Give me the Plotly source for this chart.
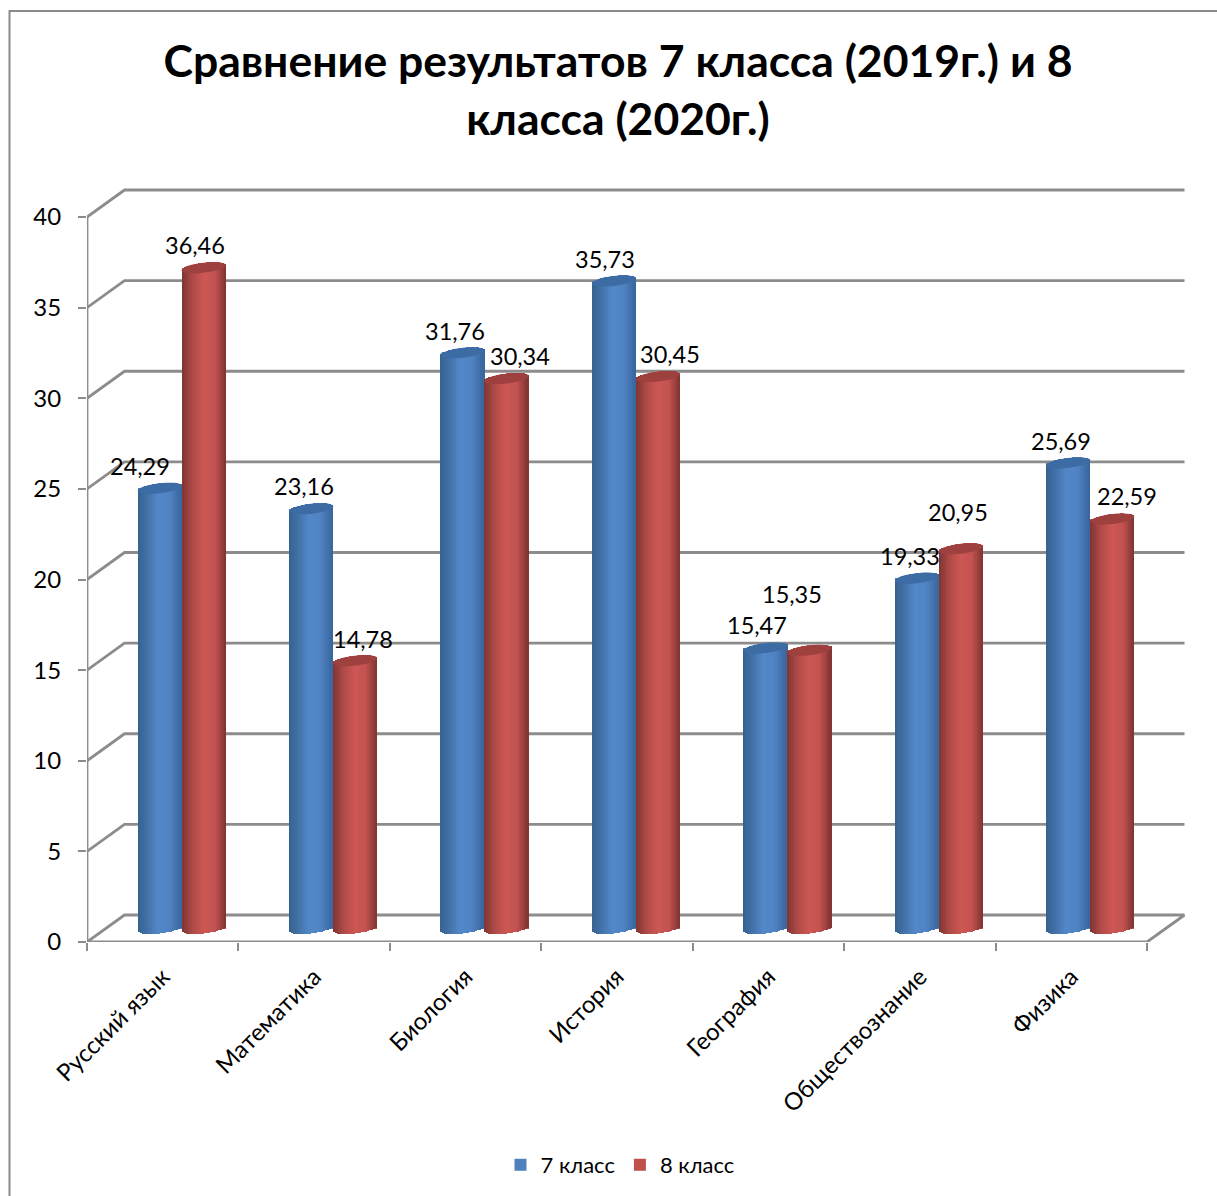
import math
import plotly.graph_objects as go

categories = ["Русский язык", "Математика", "Биология", "История", "География", "Обществознание", "Физика"]
series_7 = [24.29, 23.16, 31.76, 35.73, 15.47, 19.33, 25.69]
series_8 = [36.46, 14.78, 30.34, 30.45, 15.35, 20.95, 22.59]
y_ticks = [0, 5, 10, 15, 20, 25, 30, 35, 40]

# manual data-label placement, in pixels from the cylinder top centre
label_dx_7 = [-20, -7, -8, -9, -8, -7, -7]
label_dy_7 = [22, 23, 22, 22, 23, 22, 22]
label_dx_8 = [-9, 8, 13, 12, -17, -3, 15]
label_dy_8 = [23, 22, 23, 23, 56, 37, 23]

FONT = "Lato, 'Open Sans', sans-serif"
W, H = 1217, 1196
L, R, T, B = 87, 1192, 178, 942     # plot box in px
PX_X = 1060 / 7                              # px per category
PX_Y = 725 / 40                              # px per value unit
xmax = (R - L) / PX_X
ymax = (B - T) / PX_Y
dx = 37.5 / PX_X                             # wall depth
dy = 27 / PX_Y
bar_w = 44 / PX_X
mid_dx = 19 / PX_X                           # bars stand mid-depth
y0 = 13.5 / PX_Y
ry = 5 / PX_Y
tilt = 2.5 / PX_Y
N = 22
GRID = "#8c8c8c"

BLUE = [(-1, "#35628f"), (-0.55, "#4372a9"), (-0.1, "#5287c9"), (0.45, "#5083c2"), (1, "#37659c")]
RED = [(-1, "#7d3533"), (-0.55, "#ad4946"), (0.0, "#cd5755"), (0.5, "#c25250"), (1, "#7d3331")]


def rgb(h):
    return tuple(int(h[i:i + 2], 16) for i in (1, 3, 5))


def shade(stops, t):
    for (a, ca), (b, cb) in zip(stops, stops[1:]):
        if t <= b:
            f = (t - a) / (b - a)
            c = [round(p + (q - p) * f) for p, q in zip(rgb(ca), rgb(cb))]
            return "rgb(%d,%d,%d)" % tuple(c)
    return stops[-1][1]


fig = go.Figure()
shapes = []

# back wall and floor gridlines
for k in y_ticks:
    shapes.append(dict(type="path", layer="below", xref="x", yref="y",
                       path=f"M 0,{k} L {dx},{k + dy} L {7 + dx},{k + dy}",
                       line=dict(color=GRID, width=2.8)))

series = [("7 класс", series_7, "#4f81bd", BLUE, "#3d6ba3", -0.5, label_dx_7, label_dy_7),
          ("8 класс", series_8, "#c0504d", RED, "#9e403e", 0.5, label_dx_8, label_dy_8)]
annotations = []
for name, vals, col, stops, cap, side, ldx, ldy in series:
    cx = [i + 0.5 + mid_dx + side * bar_w for i in range(len(vals))]
    fig.add_trace(go.Bar(x=cx, y=vals, base=[y0] * len(vals), width=bar_w, name=name,
                         marker=dict(color=col, line=dict(width=0))))
    xs, ys, bs, ws, cs = [], [], [], [], []
    sw = bar_w / N
    for c, v in zip(cx, vals):
        for j in range(N):
            t = (j + 0.5) / N * 2 - 1
            drop = ry * (1 - t * t) ** 0.5
            xs.append(c + t * bar_w / 2)
            bs.append(y0 + tilt * t - drop)
            ys.append(v + 2 * drop)
            ws.append(sw * 1.12)
            cs.append(shade(stops, t))
    fig.add_trace(go.Bar(x=xs, y=ys, base=bs, width=ws, showlegend=False, hoverinfo="skip",
                         marker=dict(color=cs, line=dict(width=0))))
    for c, v, a, b in zip(cx, vals, ldx, ldy):
        pts = []
        for d in range(0, 360, 12):
            ca, sa = math.cos(math.radians(d)), math.sin(math.radians(d))
            pts.append(f"{c + ca * bar_w / 2},{y0 + v + tilt * ca + ry * sa}")
        shapes.append(dict(type="path", layer="above", xref="x", yref="y",
                           path="M " + " L ".join(pts) + " Z",
                           fillcolor=cap, line=dict(width=0)))
        annotations.append(dict(x=c, y=y0 + v, xref="x", yref="y", xshift=a, yshift=b,
                                text=f"{v:.2f}".replace(".", ","), showarrow=False,
                                font=dict(family=FONT, size=23.5, color="#000")))

# front axes and right edge of floor
fig.add_trace(go.Scatter(x=[0, 0, 7, 7 + dx], y=[40, 0, 0, dy], mode="lines", showlegend=False,
                         hoverinfo="skip", cliponaxis=False, line=dict(color=GRID, width=2.8)))

# outer frame
fx = lambda p: (p - L) / (R - L)
fy = lambda p: (B - p) / (B - T)
shapes.append(dict(type="path", xref="paper", yref="paper",
                   path=f"M {fx(9.5)},{fy(1196)} L {fx(9.5)},{fy(11)} L {fx(1217)},{fy(11)}",
                   line=dict(color="#8a8a8a", width=2)))

fig.update_layout(
    width=W, height=H, autosize=False,
    margin=dict(l=L, r=W - R, t=T, b=H - B, pad=0),
    paper_bgcolor="white", plot_bgcolor="white",
    barmode="overlay", bargap=0,
    font=dict(family=FONT, color="#000"),
    title=dict(text="<b>Сравнение результатов 7 класса (2019г.) и 8<br>класса (2020г.)</b>",
               x=618 / W, xref="container", xanchor="center",
               y=1 - 77 / H, yref="container", yanchor="top",
               font=dict(family=FONT, size=44.5, color="#000")),
    xaxis=dict(range=[0, xmax], showgrid=False, zeroline=False, showline=False,
               tickmode="array", tickvals=[i + 0.5 for i in range(7)], ticktext=categories,
               ticks="", tickangle=-45, ticklabelstandoff=15,
               tickfont=dict(family=FONT, size=24, color="#000"),
               minor=dict(tickmode="array", tickvals=list(range(8)), ticks="outside",
                          ticklen=8, tickwidth=2, tickcolor=GRID, showgrid=False)),
    yaxis=dict(range=[0, ymax], showgrid=False, zeroline=False, showline=False,
               tickmode="array", tickvals=y_ticks, ticks="outside", ticklen=8, tickwidth=2,
               tickcolor=GRID, ticklabelstandoff=12,
               tickfont=dict(family=FONT, size=24, color="#000")),
    legend=dict(orientation="h", x=620 / W, xref="container", xanchor="center",
                y=1 - 1165 / H, yref="container", yanchor="middle",
                font=dict(family=FONT, size=22, color="#000"), bgcolor="rgba(0,0,0,0)"),
    shapes=shapes, annotations=annotations, showlegend=True,
)

fig.write_html("out.html", post_script="document.body.style.margin='0';",
               config={"displayModeBar": False})
